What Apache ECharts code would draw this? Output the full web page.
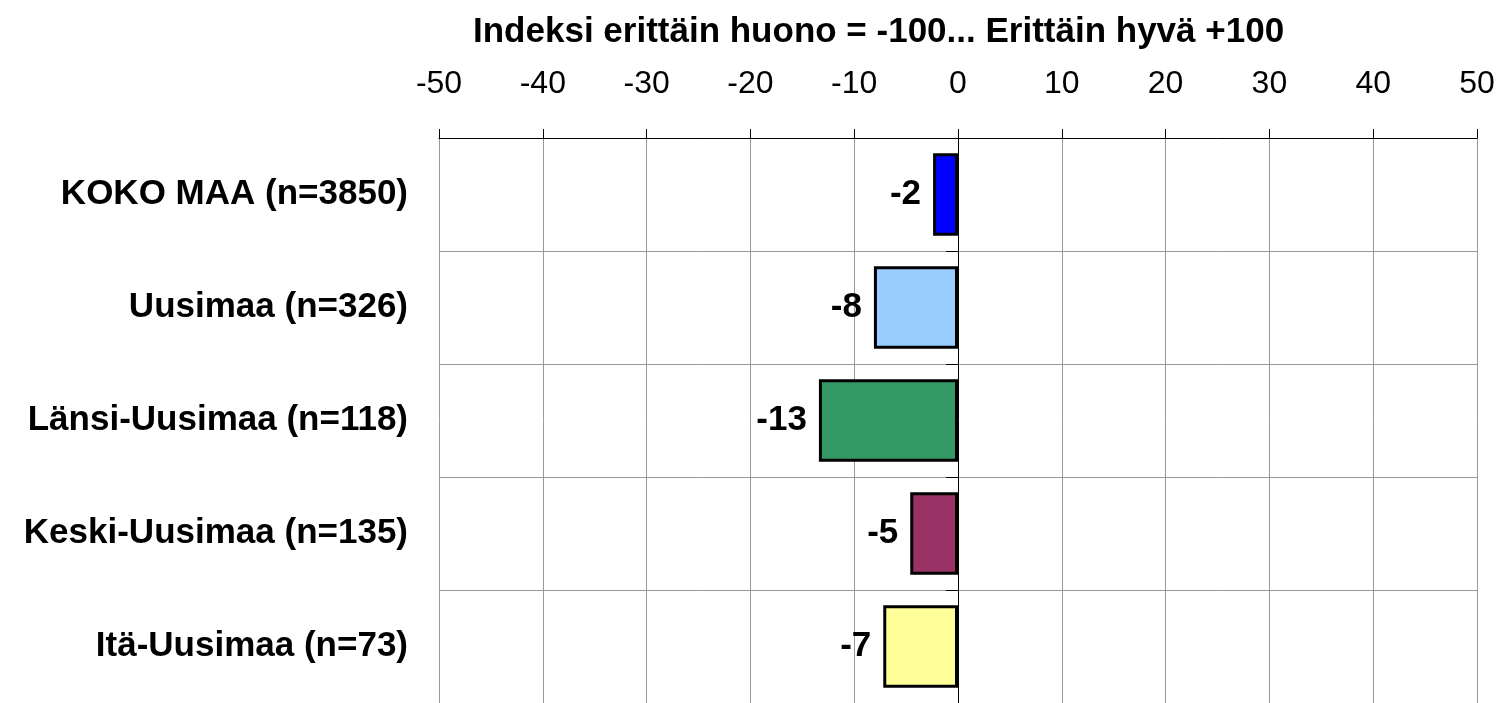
<html>
<head>
    <meta charset="utf-8">
    <title>Indeksi</title>
    <script src="https://cdn.jsdelivr.net/npm/echarts@6/dist/echarts.min.js"></script>
</head>
<body style="margin:0;background:#fff">
<div id="main" style="width: 1501px;height:703px;"></div>
<script>
    // alueet ja indeksiarvot (luettu kuvasta)
    var categories = ['KOKO MAA (n=3850)', 'Uusimaa (n=326)', 'Länsi-Uusimaa (n=118)', 'Keski-Uusimaa (n=135)', 'Itä-Uusimaa (n=73)'];
    var values = [-2.4, -8.1, -13.4, -4.6, -7.2];
    var barColors = ['#0000ff', '#99ccff', '#339966', '#993366', '#ffff99'];

    var font = 'Liberation Sans, Arial, sans-serif';

    var myChart = echarts.init(document.getElementById('main'));
    myChart.setOption({
        animation: false,
        title: {
            text: 'Indeksi erittäin huono = -100... Erittäin hyvä +100',
            left: 468,
            top: 10,
            textStyle: {fontFamily: font, fontSize: 35, fontWeight: 'bold', color: '#000'}
        },
        grid: {left: 439, right: 24, top: 138, height: 570},
        xAxis: {
            type: 'value',
            position: 'top',
            min: -50,
            max: 50,
            interval: 10,
            axisLine: {show: true, lineStyle: {color: '#000', width: 1}},
            axisTick: {show: true, length: 9, lineStyle: {color: '#000'}},
            axisLabel: {margin: 38, fontFamily: font, fontSize: 32, color: '#000'},
            splitLine: {show: true, lineStyle: {color: '#999', width: 1}}
        },
        yAxis: [{
            type: 'category',
            data: categories,
            inverse: true,
            position: 'left',
            axisLine: {show: false, onZero: false},
            axisTick: {show: false},
            axisLabel: {margin: 31, fontFamily: font, fontSize: 35, fontWeight: 'bold', color: '#000'},
            splitLine: {show: true, lineStyle: {color: '#999', width: 1}}
        }, {
            type: 'category',
            data: categories,
            inverse: true,
            position: 'left',
            z: 5,
            axisLine: {show: true, onZero: true, lineStyle: {color: '#000', width: 1}},
            axisTick: {show: true, length: 12, lineStyle: {color: '#000'}},
            axisLabel: {show: false},
            splitLine: {show: false}
        }],
        series: [{
            type: 'bar',
            barWidth: '73%',
            data: values.map(function (v, i) {
                return {value: v, itemStyle: {color: barColors[i], borderColor: '#000', borderWidth: 3}};
            }),
            label: {
                show: true,
                position: 'left',
                distance: 12,
                fontFamily: font,
                fontSize: 35,
                fontWeight: 'bold',
                color: '#000',
                formatter: function (p) { return Math.round(p.value); }
            }
        }]
    });
</script>
</body>
</html>
